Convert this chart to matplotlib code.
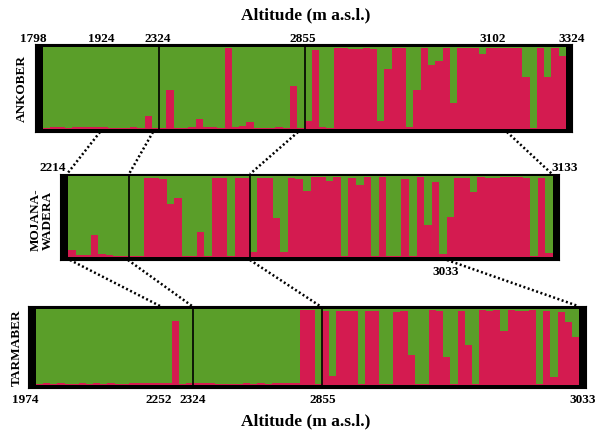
import matplotlib.pyplot as plt
from matplotlib.lines import Line2D

# Share of the red cluster per individual, ordered by altitude
ankober_low = [0.01, 0.02, 0.02, 0.01, 0.02, 0.02, 0.02, 0.02, 0.02, 0.01,
               0.01, 0.01, 0.03, 0.01, 0.16, 0.01]
ankober_mid = [0.01, 0.48, 0.01, 0.01, 0.03, 0.12, 0.03, 0.03, 0.01, 0.99,
               0.02, 0.04, 0.09, 0.01, 0.01, 0.01, 0.02, 0.01, 0.53, 0.01]
ankober_high = [0.10, 0.96, 0.02, 0.01, 0.99, 0.99, 0.98, 0.98, 0.99, 0.97,
                0.10, 0.73, 0.99, 0.99, 0.03, 0.47, 0.99, 0.78, 0.83, 0.99,
                0.32, 0.99, 0.99, 0.99, 0.91, 0.99, 0.99, 0.99, 0.99, 0.99,
                0.64, 0.01, 0.99, 0.64, 0.99, 0.89]

mojana_low = [0.09, 0.03, 0.03, 0.27, 0.04, 0.03, 0.01, 0.01]
mojana_mid = [0.01, 0.01, 0.97, 0.97, 0.96, 0.65, 0.73, 0.01, 0.01, 0.31,
              0.01, 0.97, 0.97, 0.01, 0.97, 0.97]
mojana_high = [0.06, 0.97, 0.97, 0.48, 0.06, 0.97, 0.96, 0.82, 0.99, 0.99,
               0.94, 0.99, 0.01, 0.97, 0.89, 0.99, 0.01, 0.99, 0.01, 0.01,
               0.96, 0.01, 0.99, 0.39, 0.92, 0.04, 0.50, 0.98, 0.98, 0.80,
               0.99, 0.98, 0.98, 0.99, 0.99, 0.99, 0.98, 0.01, 0.98, 0.05]

tarmaber_low = [0.01, 0.02, 0.01, 0.02, 0.01, 0.01, 0.02, 0.01, 0.02, 0.01,
                0.02, 0.01, 0.01, 0.02, 0.02, 0.02, 0.02, 0.02, 0.03, 0.84,
                0.01, 0.02]
tarmaber_mid = [0.03, 0.03, 0.03, 0.01, 0.01, 0.01, 0.01, 0.02, 0.01, 0.02,
                0.01, 0.02, 0.03, 0.02, 0.03, 0.99, 0.99, 0.01]
tarmaber_high = [0.98, 0.12, 0.98, 0.98, 0.98, 0.01, 0.98, 0.98, 0.01, 0.01,
                 0.96, 0.97, 0.39, 0.01, 0.01, 0.99, 0.98, 0.37, 0.01, 0.98,
                 0.53, 0.01, 0.99, 0.98, 0.99, 0.71, 0.99, 0.98, 0.98, 0.99,
                 0.01, 0.98, 0.10, 0.96, 0.83, 0.63]

GREEN = '#5a9e29'
RED = '#d41b50'
W, H = 600, 435

plt.rcParams['font.family'] = ['Liberation Serif', 'DejaVu Serif']
plt.rcParams['font.weight'] = 'bold'

fig = plt.figure(figsize=(W / 100, H / 100), dpi=100)


def fx(x):
    return x / W


def fy(y):
    return 1 - y / H


def panel(sections, outer, inner):
    # outer / inner boxes in pixels: (left, top, right, bottom)
    ox0, oy0, ox1, oy1 = outer
    ix0, iy0, ix1, iy1 = inner
    ax = fig.add_axes([fx(ox0), fy(oy1), (ox1 - ox0) / W, (oy1 - oy0) / H])
    red = [v for s in sections for v in s]
    n = len(red)
    idx = list(range(n))
    green = [1 - v for v in red]
    ax.bar(idx, red, width=1.0, color=RED, linewidth=0, antialiased=False)
    ax.bar(idx, green, bottom=red, width=1.0, color=GREEN, linewidth=0,
           antialiased=False)
    unit = (ix1 - ix0) / n
    ih = iy1 - iy0
    ax.set_xlim(-0.5 - (ix0 - ox0) / unit, n - 0.5 + (ox1 - ix1) / unit)
    ax.set_ylim(-(oy1 - iy1) / ih, 1 + (iy0 - oy0) / ih)
    ax.set_facecolor('black')
    pos = 0
    for s in sections[:-1]:
        pos += len(s)
        ax.axvline(pos - 0.5, color='black', lw=1.2)
    ax.set_xticks([])
    ax.set_yticks([])
    for sp in ax.spines.values():
        sp.set_color('black')
    return ax


panel([ankober_low, ankober_mid, ankober_high], (35, 45, 572, 133), (43, 48, 566, 130))
panel([mojana_low, mojana_mid, mojana_high], (60, 175, 559, 261), (68, 177, 553, 258))
panel([tarmaber_low, tarmaber_mid, tarmaber_high], (28, 307, 586, 389), (36, 310, 579, 386))

# dotted connectors between panels
connectors = [
    ((100, 133), (67, 175)),
    ((153, 133), (129, 175)),
    ((298, 133), (250, 175)),
    ((507, 133), (552, 175)),
    ((70, 261), (160, 307)),
    ((128, 261), (192, 307)),
    ((250, 261), (320, 307)),
    ((447, 261), (578, 307)),
]
for (x0, y0), (x1, y1) in connectors:
    fig.add_artist(Line2D([fx(x0), fx(x1)], [fy(y0), fy(y1)],
                          transform=fig.transFigure, color='black',
                          lw=1.8, linestyle=(0, (0.8, 1.0))))

lab = dict(fontsize=9.5, fontweight='bold', ha='center', va='center')
for txt, x in [('1798', 33), ('1924', 101), ('2324', 158), ('2855', 303),
               ('3102', 493), ('3324', 572)]:
    fig.text(fx(x), fy(39), txt, **lab)
fig.text(fx(53), fy(168), '2214', **lab)
fig.text(fx(565), fy(168), '3133', **lab)
fig.text(fx(446), fy(272), '3033', **lab)
for txt, x in [('1974', 25), ('2252', 159), ('2324', 193), ('2855', 323),
               ('3033', 583)]:
    fig.text(fx(x), fy(400), txt, **lab)

fig.text(fx(306), fy(15), 'Altitude (m a.s.l.)', fontsize=12.5,
         fontweight='bold', ha='center', va='center')
fig.text(fx(306), fy(421), 'Altitude (m a.s.l.)', fontsize=12.5,
         fontweight='bold', ha='center', va='center')

side = dict(fontsize=9.5, fontweight='bold', ha='center', va='center',
            rotation=90, multialignment='center', linespacing=1.0)
fig.text(fx(22), fy(89), 'ANKOBER', **side)
fig.text(fx(42), fy(220), 'MOJANA-\nWADERA', **side)
fig.text(fx(17), fy(348), 'TARMABER', **side)

fig.savefig('out.png', dpi=100)
